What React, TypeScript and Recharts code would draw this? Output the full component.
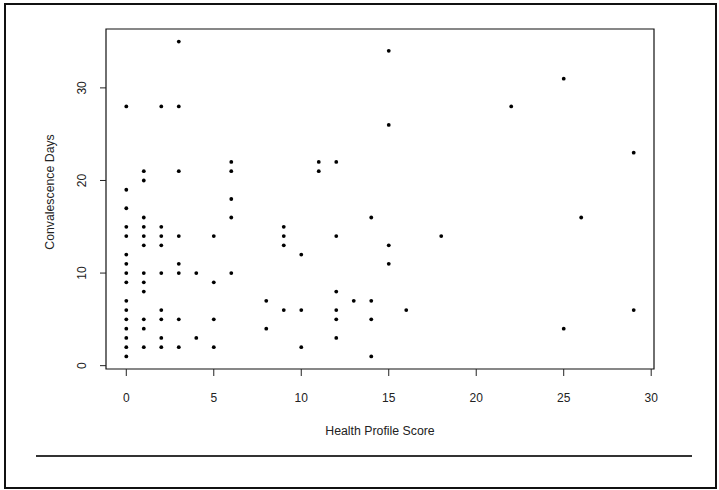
import { ScatterChart, Scatter, XAxis, YAxis, ReferenceArea } from "recharts";

// health profile score (x) and convalescence days (y), one entry per patient
const healthScore = [
  0, 0, 0, 0, 0, 0, 0, 0, 0, 0, 0, 0, 0, 0, 0, 0,
  1, 1, 1, 1, 1, 1, 1, 1, 1, 1, 1, 1,
  2, 2, 2, 2, 2, 2, 2, 2, 2,
  3, 3, 3, 3, 3, 3, 3, 3,
  4, 4,
  5, 5, 5, 5,
  6, 6, 6, 6, 6,
  8, 8,
  9, 9, 9, 9,
  10, 10, 10,
  11, 11,
  12, 12, 12, 12, 12, 12,
  13,
  14, 14, 14, 14,
  15, 15, 15, 15,
  16, 18, 22,
  25, 25,
  26,
  29, 29,
];
const convalescenceDays = [
  28, 19, 17, 15, 14, 12, 11, 10, 9, 7, 6, 5, 4, 3, 2, 1,
  21, 20, 16, 15, 14, 13, 10, 9, 8, 5, 4, 2,
  28, 15, 14, 13, 10, 6, 5, 3, 2,
  35, 28, 21, 14, 11, 10, 5, 2,
  10, 3,
  14, 9, 5, 2,
  22, 21, 18, 16, 10,
  7, 4,
  15, 14, 13, 6,
  12, 6, 2,
  22, 21,
  22, 14, 8, 6, 5, 3,
  7,
  16, 7, 5, 1,
  34, 26, 13, 11,
  6, 14, 28,
  31, 4,
  16,
  23, 6,
];
const xTicks = [0, 5, 10, 15, 20, 25, 30];
const yTicks = [0, 10, 20, 30];
const xTitle = "Health Profile Score";
const yTitle = "Convalescence Days";

const data = healthScore.map((x, i) => ({ x, y: convalescenceDays[i] }));

// R style: 4% padding around the data range
const xDomain = [-1.16, 30.16];
const yDomain = [-0.36, 36.36];

const font = "'Liberation Sans', Arial, sans-serif";
const ink = "#222";

const YTick = (props: any) => {
  const { x, y, payload } = props;
  return (
    <text
      x={x}
      y={y}
      transform={`rotate(-90 ${x} ${y})`}
      textAnchor="middle"
      dominantBaseline="central"
      fontFamily={font}
      fontSize={12}
      fill={ink}
    >
      {payload.value}
    </text>
  );
};

const Dot = (props: any) => {
  const { cx, cy } = props;
  return <circle cx={cx} cy={cy} r={1.9} fill="#000" />;
};

export default function App() {
  return (
    <div
      style={{
        position: "absolute",
        left: 0,
        top: 0,
        width: 719,
        height: 490,
        background: "#fff",
      }}
    >
      <div
        style={{
          position: "absolute",
          left: 4,
          top: 3,
          width: 713,
          height: 486,
          border: "2px solid #111",
          boxSizing: "border-box",
        }}
      />
      <div
        style={{
          position: "absolute",
          left: 36,
          top: 455,
          width: 656,
          height: 1.5,
          background: "#333",
        }}
      />
      <div style={{ position: "absolute", left: 0, top: 0 }}>
        <ScatterChart
          width={719}
          height={490}
          margin={{ top: 29, right: 65, left: 46, bottom: 81 }}
        >
          <XAxis
            type="number"
            dataKey="x"
            domain={xDomain}
            ticks={xTicks}
            allowDataOverflow
            height={40}
            axisLine={false}
            tickSize={7}
            tickMargin={17}
            tickLine={{ stroke: ink }}
            tick={{ fontSize: 12, fill: ink, fontFamily: font }}
            label={(p: any) => {
              const vb = p.viewBox;
              return (
                <text
                  x={vb.x + vb.width / 2}
                  y={435}
                  textAnchor="middle"
                  fontFamily={font}
                  fontSize={12.3}
                  fill={ink}
                >
                  {xTitle}
                </text>
              );
            }}
          />
          <YAxis
            type="number"
            dataKey="y"
            domain={yDomain}
            ticks={yTicks}
            allowDataOverflow
            width={60}
            axisLine={false}
            tickSize={6}
            tickMargin={18}
            tickLine={{ stroke: ink }}
            tick={<YTick />}
            label={() => (
              <text
                x={54}
                y={192}
                transform="rotate(-90 54 192)"
                textAnchor="middle"
                fontFamily={font}
                fontSize={12.3}
                fill={ink}
              >
                {yTitle}
              </text>
            )}
          />
          <ReferenceArea
            x1={xDomain[0]}
            x2={xDomain[1]}
            y1={yDomain[0]}
            y2={yDomain[1]}
            fill="none"
            stroke="#111"
            strokeWidth={1.2}
          />
          <Scatter data={data} shape={<Dot />} isAnimationActive={false} />
        </ScatterChart>
      </div>
    </div>
  );
}
